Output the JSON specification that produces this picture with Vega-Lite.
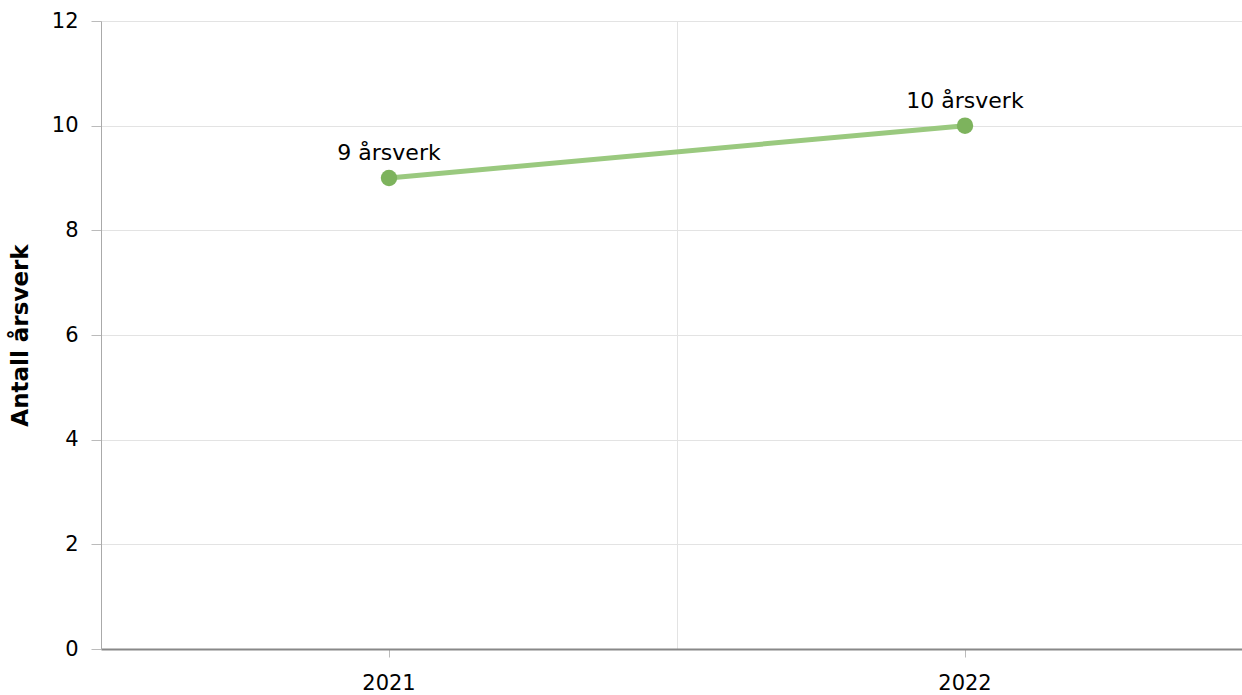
{
  "$schema": "https://vega.github.io/schema/vega-lite/v6.json",
  "autosize": "none",
  "padding": {"left": 101, "top": 21, "right": 0, "bottom": 46},
  "width": 1152,
  "height": 628,
  "config": {
    "font": "DejaVu Sans",
    "view": {"stroke": null}
  },
  "data": {
    "values": [
      {"year": "2021", "value": 9, "label": "9 årsverk"},
      {"year": "2022", "value": 10, "label": "10 årsverk"}
    ]
  },
  "encoding": {
    "x": {"field": "year", "type": "nominal", "scale": {"paddingInner": 0, "paddingOuter": 0}},
    "y": {"field": "value", "type": "quantitative", "scale": {"domain": [0, 12]}}
  },
  "resolve": {"axis": {"x": "independent"}},
  "layer": [
    {
      "mark": {"type": "line", "color": "#9ac97f", "strokeWidth": 5},
      "encoding": {
        "x": {"field": "year", "type": "nominal", "axis": {"title": null, "labelAngle": 0, "labelFontSize": 21, "labelColor": "#000", "labelPadding": 15, "tickColor": "#bbb", "tickSize": 8, "domainColor": "#888", "domainWidth": 2, "grid": false}},
        "y": {"field": "value", "type": "quantitative", "axis": {"title": "Antall årsverk", "titleFontSize": 23, "titleFontWeight": "bold", "titleColor": "#000", "titleX": -69, "labelFontSize": 21, "labelColor": "#000", "labelPadding": 13, "tickColor": "#bbb", "tickSize": 10, "domainColor": "#aaa", "gridColor": "#e3e3e3", "values": [0, 2, 4, 6, 8, 10, 12]}}
      }
    },
    {
      "mark": {"type": "point", "filled": true, "opacity": 1, "color": "#7db35d", "size": 270},
      "encoding": {
        "x": {"field": "year", "type": "nominal", "axis": {"title": null, "labels": false, "ticks": false, "domain": false, "grid": true, "tickBand": "extent", "gridColor": "#e3e3e3"}}
      }
    },
    {
      "mark": {"type": "text", "fontSize": 22, "dy": -25, "color": "#000"},
      "encoding": {
        "text": {"field": "label"},
        "x": {"field": "year", "type": "nominal", "axis": null}
      }
    }
  ]
}
